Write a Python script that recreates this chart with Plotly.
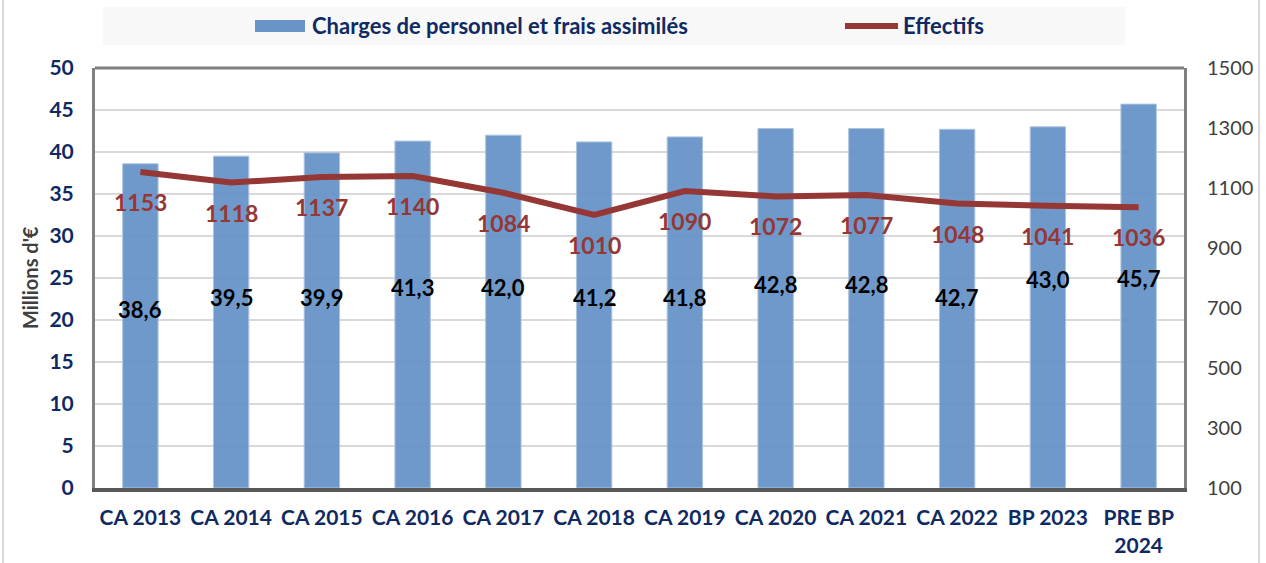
import plotly.graph_objects as go

categories = ["CA 2013", "CA 2014", "CA 2015", "CA 2016", "CA 2017", "CA 2018",
              "CA 2019", "CA 2020", "CA 2021", "CA 2022", "BP 2023", "PRE BP<br>2024"]
charges = [38.6, 39.5, 39.9, 41.3, 42.0, 41.2, 41.8, 42.8, 42.8, 42.7, 43.0, 45.7]
effectifs = [1153, 1118, 1137, 1140, 1084, 1010, 1090, 1072, 1077, 1048, 1041, 1036]

bar_name = "Charges de personnel et frais assimilés"
line_name = "Effectifs"

# where the bar value labels sit (left axis units), as in the source chart
bar_label_y = [21.2, 22.7, 22.7, 23.9, 23.9, 22.7, 22.7, 24.2, 24.2, 22.7, 24.8, 25.0]

NAVY = "#0f2a63"
RED = "#953735"
BLUE = "#6894c8"
FONT = "Lato"

# plot area spans x 95..1184 px, y 68..488 px; helpers for paper coords
def px(x):
    return (x - 95) / 1089

def py(y):
    return (488 - y) / 420

fig = go.Figure()
fig.add_trace(go.Bar(
    x=categories, y=charges, name=bar_name,
    marker=dict(color=BLUE, line=dict(color="#a9c2e0", width=1)),
    opacity=0.95, width=0.39, yaxis="y", showlegend=False,
))
fig.add_trace(go.Scatter(
    x=categories, y=effectifs, name=line_name, mode="lines",
    line=dict(color=RED, width=6), yaxis="y2", showlegend=False,
))

annotations = []
for cat, v, ly in zip(categories, charges, bar_label_y):
    annotations.append(dict(
        x=cat, y=ly, xref="x", yref="y", showarrow=False,
        text=f"{v:.1f}".replace(".", ","),
        font=dict(family=FONT, size=22, color="black", weight="bold"),
    ))
for cat, v in zip(categories, effectifs):
    annotations.append(dict(
        x=cat, y=v, xref="x", yref="y2", showarrow=False, yshift=-30,
        text=str(v), font=dict(family=FONT, size=23, color=RED, weight="bold"),
    ))
annotations.append(dict(
    x=px(30), y=0.5, xref="paper", yref="paper", xanchor="center", yanchor="middle",
    showarrow=False, textangle=-90, text="Millions d'€",
    font=dict(family=FONT, size=20, color="#404040", weight="bold"),
))
# legend texts
legend_font = dict(family=FONT, size=22, color=NAVY, weight="bold")
annotations.append(dict(x=px(310), y=py(26), xref="paper", yref="paper", xanchor="left",
                        yanchor="middle", showarrow=False, text=bar_name, font=legend_font))
annotations.append(dict(x=px(901), y=py(26), xref="paper", yref="paper", xanchor="left",
                        yanchor="middle", showarrow=False, text=line_name, font=legend_font))

fig.update_layout(
    width=1266, height=563,
    margin=dict(l=95, r=82, t=68, b=75, autoexpand=False),
    paper_bgcolor="white", plot_bgcolor="white",
    font=dict(family=FONT),
    showlegend=False,
    xaxis=dict(
        showgrid=False, showline=True, linecolor="#595959", linewidth=4,
        tickfont=dict(family=FONT, size=21, color=NAVY, weight="bold"),
        ticks="", automargin=False, ticklabelstandoff=8,
    ),
    yaxis=dict(
        range=[0, 50], dtick=5, showgrid=True, gridcolor="#d9d9d9", gridwidth=2,
        showline=True, linecolor="#808080", linewidth=3, zeroline=False,
        tickfont=dict(family=FONT, size=21, color=NAVY, weight="bold"),
        automargin=False, ticklabelstandoff=14,
    ),
    yaxis2=dict(
        range=[100, 1500], tick0=100, dtick=200, overlaying="y", side="right",
        showgrid=False, zeroline=False, showline=True, linecolor="#808080", linewidth=3,
        tickfont=dict(family=FONT, size=20, color="#404040"),
        automargin=False, ticklabelstandoff=16,
    ),
    bargap=0.6,
    annotations=annotations,
    shapes=[
        # legend background band
        dict(type="rect", xref="paper", yref="paper", x0=px(103), x1=px(1125),
             y0=py(45), y1=py(7), fillcolor="#f8f8f8", line=dict(width=0), layer="below"),
        # legend symbols
        dict(type="rect", xref="paper", yref="paper", x0=px(255), x1=px(305),
             y0=py(32), y1=py(20), fillcolor=BLUE, line=dict(width=0)),
        dict(type="line", xref="paper", yref="paper", x0=px(845), x1=px(898),
             y0=py(26), y1=py(26), line=dict(color=RED, width=6)),
        # top border of plot area
        dict(type="line", xref="paper", yref="paper", x0=0, x1=1, y0=1, y1=1,
             line=dict(color="#808080", width=3)),
        # outer chart border
        dict(type="line", xref="paper", yref="paper", x0=px(3), x1=px(3), y0=py(563), y1=py(0),
             line=dict(color="#d9d9d9", width=2)),
        dict(type="line", xref="paper", yref="paper", x0=px(1259), x1=px(1259), y0=py(563), y1=py(0),
             line=dict(color="#d9d9d9", width=2)),
    ],
)

fig.write_html("out.html", config={"displayModeBar": False},
               post_script="document.body.style.margin='0';")
